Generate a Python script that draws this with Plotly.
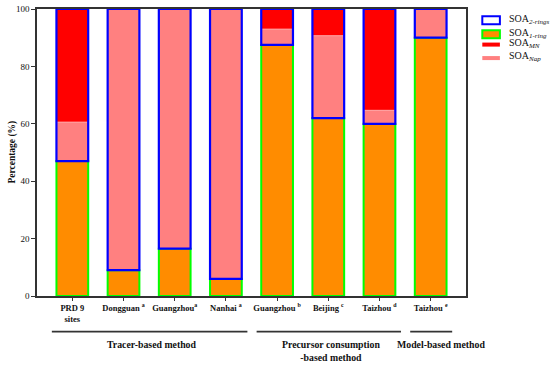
import plotly.graph_objects as go

categories = ["PRD 9<br>sites", "Dongguan <sup>a</sup>", "Guangzhou<sup>a</sup>", "Nanhai <sup>a</sup>",
              "Guangzhou <sup>b</sup>", "Beijing <sup>c</sup>", "Taizhou <sup>d</sup>", "Taizhou <sup>e</sup>"]
one_ring = [47, 9, 16.5, 6, 87.5, 62, 60, 90]
nap = [13.6, 91, 83.5, 94, 5.5, 28.7, 4.7, 10]
mn = [39.4, 0, 0, 0, 7, 9.3, 35.3, 0]
two_rings = [round(a + b, 2) for a, b in zip(nap, mn)]
y_ticks = [0, 20, 40, 60, 80, 100]

groups = ["Tracer-based method", "Precursor consumption<br>-based method", "Model-based method"]
group_spans = [(0, 3), (4, 6), (7, 7)]

legend_names = ["SOA<sub><i>2-rings</i></sub>", "SOA<sub><i>1-ring</i></sub>",
                "SOA<sub><i>MN</i></sub>", "SOA<sub><i>Nap</i></sub>"]

x = list(range(len(categories)))
FONT = "'Liberation Serif', 'Times New Roman', serif"
W = 0.62

fig = go.Figure()
fig.add_trace(go.Bar(x=x, y=one_ring, width=W, name=legend_names[1],
                     marker=dict(color="#FF8C00", line=dict(color="#00FF00", width=2))))
fig.add_trace(go.Bar(x=x, y=nap, base=one_ring, width=W, name=legend_names[3],
                     marker=dict(color="#FF8080", line=dict(width=0))))
base_mn = [a + b for a, b in zip(one_ring, nap)]
fig.add_trace(go.Bar(x=x, y=mn, base=base_mn, width=W, name=legend_names[2],
                     marker=dict(color="#FF0000", line=dict(color="#FFB8B8", width=0.8))))
fig.add_trace(go.Bar(x=x, y=two_rings, base=one_ring, width=W, name=legend_names[0],
                     marker=dict(color="rgba(255,255,255,0)", line=dict(color="#0000FF", width=2.2))))

# group lines and labels
for g, (a, b) in zip(groups, group_spans):
    fig.add_shape(type="line", xref="x", yref="paper", x0=a - 0.4, x1=b + 0.42,
                  y0=-0.124, y1=-0.124, line=dict(color="#333333", width=1.6))
    fig.add_annotation(xref="x", yref="paper", x=(a + b) / 2 + (0.2 if a == b else 0.05),
                       y=-0.142, yanchor="top", text="<b>" + g + "</b>", showarrow=False,
                       font=dict(family=FONT, size=9.8, color="#111"), align="center")

# y-axis title
fig.add_annotation(xref="paper", yref="paper", x=-0.058, y=0.5, xanchor="center", yanchor="middle",
                   text="<b>Percentage (%)</b>", textangle=-90, showarrow=False,
                   font=dict(family=FONT, size=9.5, color="#111"))

# manual legend
leg_style = [
    dict(fill="white", line="#0000FF", lw=2, h=0.028),
    dict(fill="#FF8C00", line="#00FF00", lw=2, h=0.028),
    dict(fill="#FF0000", line="#FF0000", lw=0, h=0.014),
    dict(fill="#FF8080", line="#FF8080", lw=0, h=0.014),
]
leg_y = [0.965, 0.916, 0.880, 0.833]
for name, st, yy in zip(legend_names, leg_style, leg_y):
    fig.add_shape(type="rect", xref="paper", yref="paper", x0=1.038, x1=1.079,
                  y0=yy - st["h"] / 2 - 0.004, y1=yy + st["h"] / 2 - 0.004, fillcolor=st["fill"],
                  line=dict(color=st["line"], width=st["lw"]))
    fig.add_annotation(xref="paper", yref="paper", x=1.096, y=yy, xanchor="left", yanchor="middle",
                       text=name, showarrow=False, font=dict(family=FONT, size=10, color="#111"))

fig.update_layout(
    width=550, height=365,
    margin=dict(l=37, r=84, t=9, b=69, autoexpand=False),
    barmode="overlay",
    showlegend=False,
    plot_bgcolor="white", paper_bgcolor="white",
    font=dict(family=FONT, color="#111"),
    xaxis=dict(tickmode="array", tickvals=x, ticktext=["<b>" + c + "</b>" for c in categories],
               range=[-0.69, 7.69], showline=True, mirror=True, linecolor="#333333", linewidth=1.5,
               ticks="outside", ticklen=3, tickcolor="#333333", tickfont=dict(family=FONT, size=8.5),
               showgrid=False, zeroline=False, automargin=False),
    yaxis=dict(range=[0, 100], tickvals=y_ticks, showline=True, mirror=True, linecolor="#333333",
               linewidth=1.5, ticks="outside", ticklen=4, tickcolor="#333333",
               tickfont=dict(family=FONT, size=9), showgrid=False, zeroline=False, automargin=False),
)

fig.write_html("out.html", config={"displayModeBar": False},
               post_script="document.body.style.margin='0';document.body.style.overflow='hidden';")
